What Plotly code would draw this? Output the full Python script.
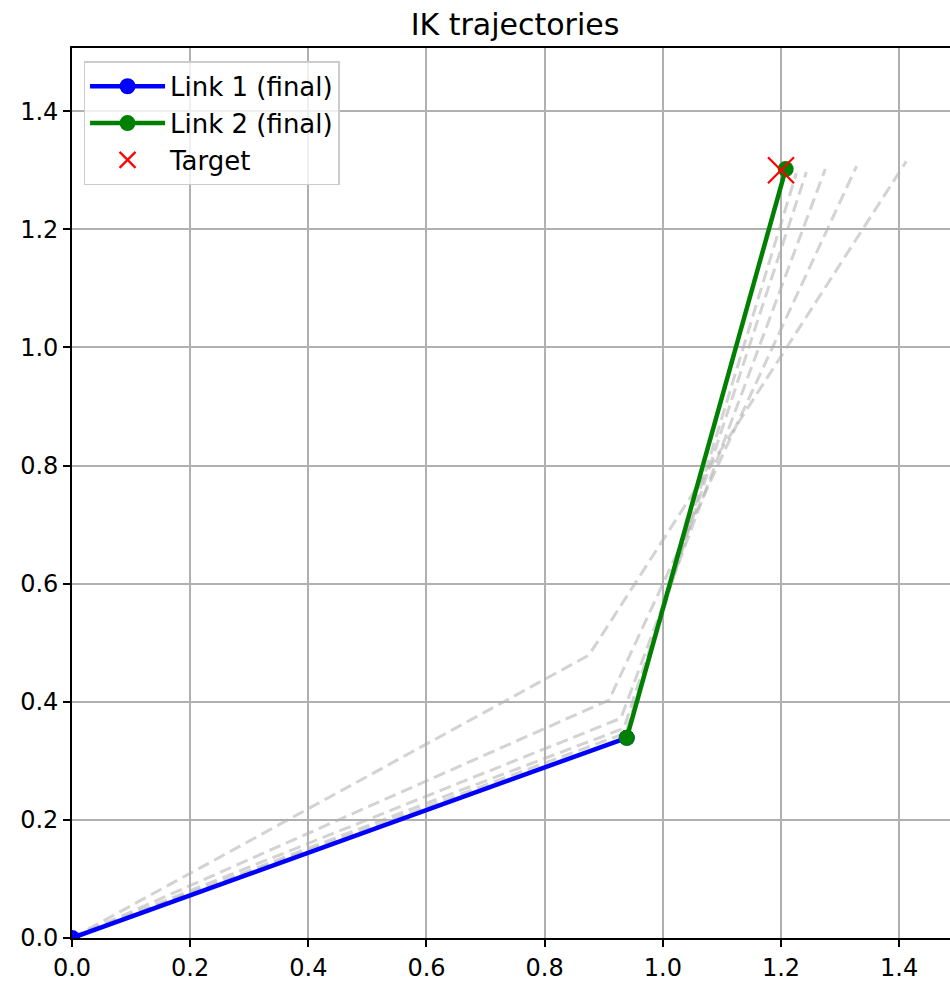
import plotly.graph_objects as go

# Intermediate IK iterations (joint = elbow, end = end effector)
iter_elbow_x = [0.875, 0.909, 0.929, 0.934, 0.9375, 0.939]
iter_elbow_y = [0.479, 0.403, 0.372, 0.355, 0.347, 0.339]
iter_end_x = [1.412, 1.328, 1.275, 1.243, 1.226, 1.208]
iter_end_y = [1.315, 1.307, 1.302, 1.297, 1.295, 1.302]

# Final configuration
base = [0.0, 0.0]
final_elbow = [0.939, 0.339]
final_end = [1.208, 1.302]

target = [1.2, 1.3]

x_ticks = [0.0, 0.2, 0.4, 0.6, 0.8, 1.0, 1.2, 1.4]
y_ticks = [0.0, 0.2, 0.4, 0.6, 0.8, 1.0, 1.2, 1.4]

fig = go.Figure()

for ex, ey, tx, ty in zip(iter_elbow_x, iter_elbow_y, iter_end_x, iter_end_y):
    fig.add_trace(go.Scatter(
        x=[base[0], ex, tx], y=[base[1], ey, ty], mode="lines",
        line=dict(color="rgba(175,175,175,0.55)", width=3, dash="12px,6px"),
        showlegend=False, hoverinfo="skip"))

fig.add_trace(go.Scatter(
    x=[base[0], final_elbow[0]], y=[base[1], final_elbow[1]],
    mode="lines+markers", name="Link 1 (final)",
    line=dict(color="blue", width=4.5), marker=dict(color="blue", size=16)))
fig.add_trace(go.Scatter(
    x=[final_elbow[0], final_end[0]], y=[final_elbow[1], final_end[1]],
    mode="lines+markers", name="Link 2 (final)",
    line=dict(color="green", width=4.5), marker=dict(color="green", size=16)))
fig.add_trace(go.Scatter(
    x=[target[0]], y=[target[1]], mode="markers", name="Target",
    marker=dict(symbol="x-thin", size=26, line=dict(color="red", width=2.2), color="red")))

axis_common = dict(
    showgrid=True, gridcolor="#b0b0b0", gridwidth=1.5,
    zeroline=False, showline=True, linecolor="black", linewidth=1.6,
    ticks="outside", ticklen=7, tickcolor="black", tickwidth=1.6,
    automargin=False,
    tickfont=dict(family="DejaVu Sans", size=24, color="black"),
)

fig.update_layout(
    width=960, height=986,
    paper_bgcolor="white", plot_bgcolor="white",
    margin=dict(l=72, r=0, t=48, b=48),
    title=dict(text="IK trajectories", x=515 / 960, xanchor="center",
               yref="container", y=1 - 24 / 986, yanchor="middle",
               font=dict(family="DejaVu Sans", size=30, color="black")),
    xaxis=dict(range=[0, 1.503], tickvals=x_ticks, mirror=True,
               ticktext=[f"{v:.1f}" for v in x_ticks], **axis_common),
    yaxis=dict(range=[0, 1.507], tickvals=y_ticks, mirror=False,
               ticktext=[f"{v:.1f}" for v in y_ticks], **axis_common),
    legend=dict(x=0.013, y=0.985, xanchor="left", yanchor="top",
                bgcolor="rgba(255,255,255,0.8)", bordercolor="#cccccc", borderwidth=1.5,
                font=dict(family="DejaVu Sans", size=26, color="black"),
                itemwidth=75, tracegroupgap=0),
    showlegend=True,
)

fig.write_html(
    "out.html",
    config={"displayModeBar": False},
    post_script="document.body.style.margin='0';document.body.style.overflow='hidden';"
                "document.documentElement.style.overflow='hidden';",
)
